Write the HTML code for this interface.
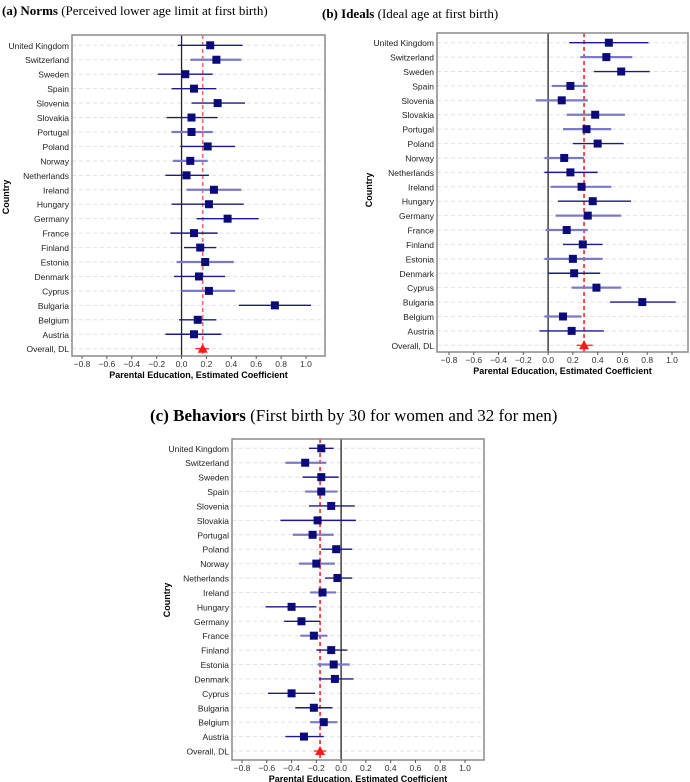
<!DOCTYPE html>
<html><head><meta charset="utf-8"><style>
body{margin:0;background:#fff;width:690px;height:782px;overflow:hidden}
svg{position:absolute;left:0;top:0}
</style></head><body>
<svg id="chart" width="690" height="782" xmlns="http://www.w3.org/2000/svg">
<text x="2" y="15" font-family="Liberation Serif, serif" font-size="13"><tspan font-weight="bold">(a) Norms</tspan> (Perceived lower age limit at first birth)</text>
<text x="322" y="18" font-family="Liberation Serif, serif" font-size="13"><tspan font-weight="bold">(b) Ideals</tspan> (Ideal age at first birth)</text>
<text x="150" y="421" font-family="Liberation Serif, serif" font-size="17"><tspan font-weight="bold">(c) Behaviors</tspan> (First birth by 30 for women and 32 for men)</text>
</svg>
<script>
const countries=["United Kingdom","Switzerland","Sweden","Spain","Slovenia","Slovakia","Portugal","Poland","Norway","Netherlands","Ireland","Hungary","Germany","France","Finland","Estonia","Denmark","Cyprus","Bulgaria","Belgium","Austria","Overall, DL"];
const ticks=[-0.8,-0.6,-0.4,-0.2,0.0,0.2,0.4,0.6,0.8,1.0];
const tickLabels=["−0.8","−0.6","−0.4","−0.2","0.0","0.2","0.4","0.6","0.8","1.0"];
const normsEst=[0.23,0.28,0.03,0.10,0.29,0.08,0.08,0.21,0.07,0.04,0.26,0.22,0.37,0.10,0.15,0.19,0.14,0.22,0.75,0.13,0.10,0.17];
const normsLo=[-0.03,0.07,-0.19,-0.08,0.08,-0.12,-0.08,-0.01,-0.07,-0.13,0.04,-0.08,0.12,-0.09,0.02,-0.04,-0.06,0.0,0.46,-0.02,-0.13,0.11];
const normsHi=[0.49,0.48,0.25,0.28,0.51,0.29,0.25,0.43,0.21,0.22,0.48,0.50,0.62,0.29,0.28,0.42,0.35,0.43,1.04,0.28,0.32,0.22];
const idealsEst=[0.49,0.47,0.59,0.18,0.11,0.38,0.31,0.40,0.13,0.18,0.27,0.36,0.32,0.15,0.28,0.20,0.21,0.39,0.76,0.12,0.19,0.29];
const idealsLo=[0.17,0.26,0.37,0.03,-0.10,0.15,0.12,0.20,-0.03,-0.03,0.02,0.08,0.06,-0.02,0.12,-0.03,0.0,0.19,0.50,-0.03,-0.07,0.23];
const idealsHi=[0.81,0.68,0.82,0.32,0.32,0.62,0.51,0.61,0.29,0.40,0.51,0.67,0.59,0.32,0.44,0.44,0.42,0.59,1.03,0.27,0.45,0.36];
const behavEst=[-0.16,-0.29,-0.16,-0.16,-0.08,-0.19,-0.23,-0.04,-0.20,-0.03,-0.15,-0.40,-0.32,-0.22,-0.08,-0.06,-0.05,-0.40,-0.22,-0.14,-0.30,-0.17];
const behavLo=[-0.26,-0.45,-0.31,-0.29,-0.26,-0.49,-0.39,-0.16,-0.34,-0.13,-0.25,-0.61,-0.46,-0.33,-0.20,-0.19,-0.18,-0.59,-0.37,-0.25,-0.45,-0.22];
const behavHi=[-0.06,-0.12,-0.02,-0.03,0.11,0.12,-0.06,0.09,-0.05,0.09,-0.04,-0.20,-0.17,-0.11,0.05,0.07,0.10,-0.21,-0.07,-0.03,-0.14,-0.12];
const normsLight=[0,1,0,0,0,0,1,0,1,0,1,0,0,0,0,1,0,1,0,0,0];
const idealsLight=[0,1,0,1,1,1,1,0,1,0,1,0,1,1,0,1,0,1,0,1,0];
const behavLight=[0,1,0,1,0,0,1,0,1,0,1,0,0,1,0,1,0,0,0,1,0];

const svg=document.getElementById('chart');
const NS="http://www.w3.org/2000/svg";
function mk(tag,attrs,parent){const e=document.createElementNS(NS,tag);for(const k in attrs)e.setAttribute(k,attrs[k]);(parent||svg).appendChild(e);return e;}

function panel(id,cfg,est,lo,hi,light){
  const g=mk('g',{});
  
  
  const x=v=>cfg.x0+(v-(-0.8))*(cfg.x1-cfg.x0)/1.8;
  const y=i=>cfg.yTop+i*(cfg.yBot-cfg.yTop)/(countries.length-1);
  const bg=mk('rect',{x:cfg.L,y:cfg.T,width:cfg.R-cfg.L,height:cfg.B-cfg.T,fill:'#fff'},g);
  
  
  countries.forEach((c,i)=>{
    const gl=mk('line',{x1:cfg.L,x2:cfg.R,y1:y(i),y2:y(i),stroke:'#e2e2e2','stroke-dasharray':'4,3','stroke-width':1},g);
    
    
    const t=mk('text',{x:cfg.L-3,y:y(i)+3.5,'text-anchor':'end','font-family':'Liberation Sans, sans-serif','font-size':'8.5',fill:'#222'},g);
    t.textContent=c;
    
    
  });
  const zl=mk('line',{x1:x(0),x2:x(0),y1:cfg.T,y2:cfg.B,stroke:'#222','stroke-width':1.3},g);
  
  
  const ov=est[est.length-1];
  const rl=mk('line',{x1:x(ov),x2:x(ov),y1:cfg.T,y2:cfg.B,stroke:cfg.red,'stroke-width':1.6,'stroke-dasharray':'4,3'},g);
  
  
  for(let i=0;i<countries.length-1;i++){
    const ci=mk('line',{x1:x(lo[i]),x2:x(hi[i]),y1:y(i),y2:y(i),stroke:light[i]?'#7a7ac8':'#1a1a8a','stroke-width':light[i]?2.2:1.4},g);
    
    
    const m=mk('rect',{x:x(est[i])-4,y:y(i)-4,width:8,height:8,fill:'#0a0a7a'},g);
    
    
  }
  const n=countries.length-1;
  const oc=mk('line',{x1:x(lo[n]),x2:x(hi[n]),y1:y(n),y2:y(n),stroke:'#ff3333','stroke-width':1.4},g);
  
  
  const tri=mk('polygon',{points:`${x(est[n])-5},${y(n)+4} ${x(est[n])+5},${y(n)+4} ${x(est[n])},${y(n)-5}`,fill:'#ff1a1a'},g);
  
  
  const box=mk('rect',{x:cfg.L,y:cfg.T,width:cfg.R-cfg.L,height:cfg.B-cfg.T,fill:'none',stroke:'#8a8a8a','stroke-width':1.5},g);
  
  
  ticks.forEach((t,k)=>{
    mk('line',{x1:x(t),x2:x(t),y1:cfg.B,y2:cfg.B+3,stroke:'#555'},g);
    const tl=mk('text',{x:x(t),y:cfg.B+11,'text-anchor':'middle','font-family':'Liberation Sans, sans-serif','font-size':'8.5',fill:'#333'},g);
    tl.textContent=tickLabels[k];
    
    
  });
  const xt=mk('text',{x:(cfg.L+cfg.R)/2,y:cfg.B+22,'text-anchor':'middle','font-family':'Liberation Sans, sans-serif','font-size':'9','font-weight':'bold'},g);
  xt.textContent='Parental Education, Estimated Coefficient';
  
  
  const yt=mk('text',{x:cfg.cx,y:cfg.cy,'text-anchor':'middle','font-family':'Liberation Sans, sans-serif','font-size':'9','font-weight':'bold',transform:`rotate(-90 ${cfg.cx} ${cfg.cy})`},g);
  yt.textContent='Country';
  
  
}
panel('norms',{L:72,R:325,T:35,B:356,x0:82,x1:306,yTop:45.3,yBot:348.7,red:'#ff6666',cx:9,cy:197},normsEst,normsLo,normsHi,normsLight);
panel('ideals',{L:437,R:688,T:33,B:352,x0:449,x1:672,yTop:42.7,yBot:345.3,red:'#ff2222',cx:372,cy:190},idealsEst,idealsLo,idealsHi,idealsLight);
panel('behaviors',{L:232,R:484,T:439,B:760,x0:242,x1:465,yTop:448.3,yBot:751,red:'#ff2222',cx:170,cy:600},behavEst,behavLo,behavHi,behavLight);
</script>
</body></html>
